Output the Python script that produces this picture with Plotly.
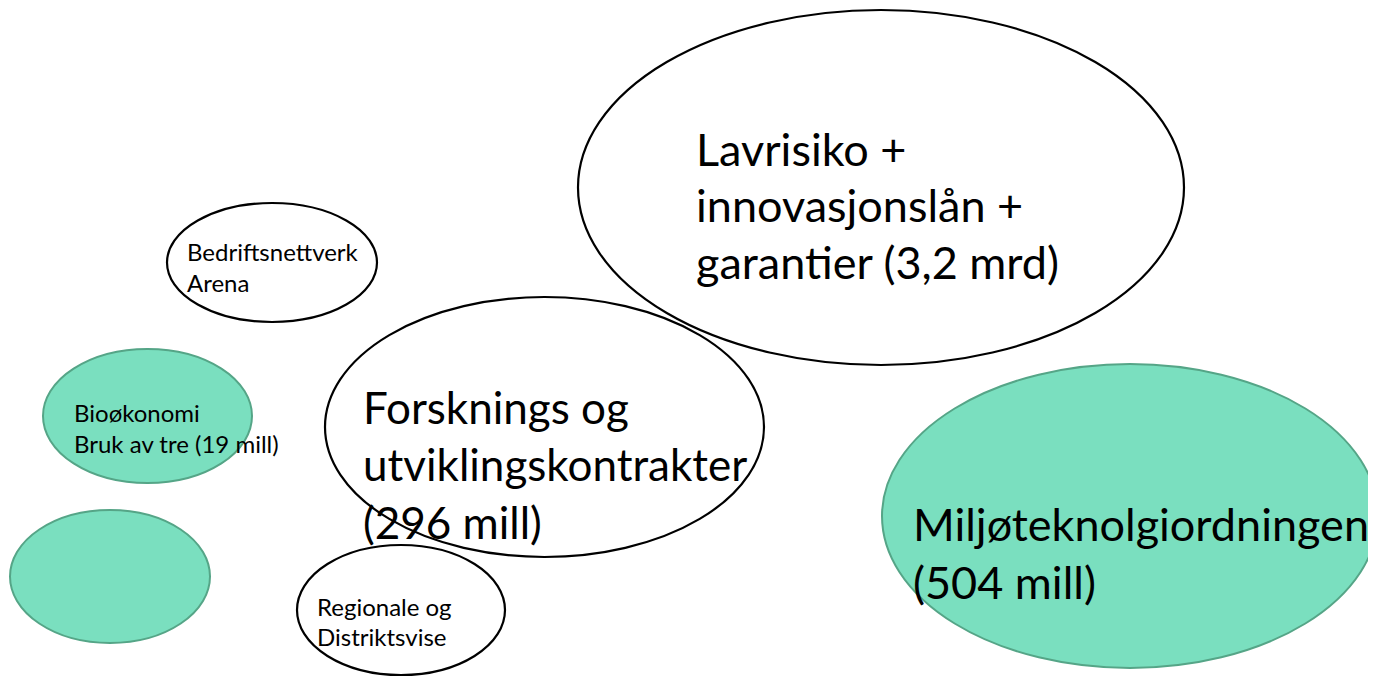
import plotly.graph_objects as go

# Ellipse diagram content
names = ["Lavrisiko", "Bedriftsnettverk", "Bioøkonomi", "Tom", "Forsknings", "Regionale", "Miljø"]
label_lines = [
    ["Lavrisiko +", "innovasjonslån +", "garantier (3,2 mrd)"],
    ["Bedriftsnettverk", "Arena"],
    ["Bioøkonomi", "Bruk av tre (19 mill)"],
    [],
    ["Forsknings og", "utviklingskontrakter", "(296 mill)"],
    ["Regionale og", "Distriktsvise"],
    ["Miljøteknolgiordningen", "(504 mill)"],
]
# geometry (pixel-space coordinates on a 1376x676 canvas)
cx = [881, 272, 147.5, 110, 544.5, 401, 1130]
cy = [187.5, 262.5, 416, 576.5, 427, 610, 516]
rx = [303, 105, 104.5, 100, 219.5, 104, 248]
ry = [177.5, 59.5, 67, 66.5, 130, 65, 152]
green = [False, False, True, True, False, False, True]
text_x = [694, 185, 72, None, 361, 315, 911]
text_y = [
    [149, 205, 262],
    [251, 282],
    [412, 443],
    [],
    [407, 464, 522],
    [606, 636],
    [524, 582],
]
font_px = [45, 24, 24, 0, 44, 24, 45]

GREEN_FILL = "#7adfbf"
GREEN_LINE = "#55a587"

draw_order = [3, 2, 1, 4, 5, 0, 6]

# page body has an 8px margin; offset the axis ranges so data coords equal page pixels
OFF = 8

fig = go.Figure()
shapes = []
for i in draw_order:
    shapes.append(dict(
        type="circle", xref="x", yref="y",
        x0=cx[i] - rx[i], x1=cx[i] + rx[i],
        y0=cy[i] - ry[i], y1=cy[i] + ry[i],
        fillcolor=GREEN_FILL if green[i] else "white",
        line=dict(color=GREEN_LINE if green[i] else "black", width=2 if green[i] else 2.2),
        layer="below",
    ))

annotations = []
for i in range(len(names)):
    for line, y in zip(label_lines[i], text_y[i]):
        annotations.append(dict(
            x=text_x[i], y=y, xref="x", yref="y",
            text=line, showarrow=False,
            xanchor="left", yanchor="middle", align="left",
            font=dict(family="Lato, Open Sans, sans-serif", size=font_px[i], color="black"),
        ))

fig.update_layout(
    width=1376, height=676,
    margin=dict(l=0, r=0, t=0, b=0),
    paper_bgcolor="white", plot_bgcolor="white",
    shapes=shapes, annotations=annotations,
    xaxis=dict(range=[OFF, 1376 + OFF], visible=False, fixedrange=True),
    yaxis=dict(range=[676 + OFF, OFF], visible=False, fixedrange=True),
    showlegend=False,
)
fig.write_html("out.html", config={"displayModeBar": False})
